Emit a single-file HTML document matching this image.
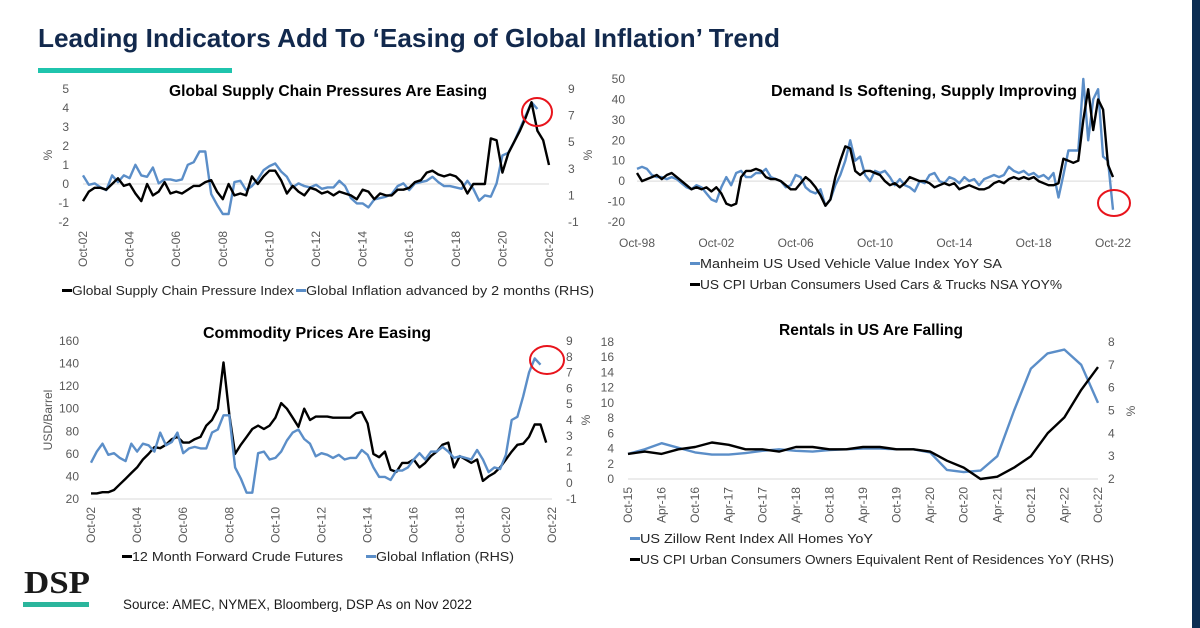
<!DOCTYPE html>
<html><head><meta charset="utf-8">
<style>
html,body{margin:0;padding:0;background:#fff;}
svg{display:block;font-family:"Liberation Sans",sans-serif;}
.t{font-size:12px;fill:#595959;}
.lg{font-size:12.5px;fill:#262626;}
.pt{font-size:16px;font-weight:bold;fill:#000;}
</style></head>
<body>
<svg id="s" width="1200" height="628" viewBox="0 0 1200 628" xmlns="http://www.w3.org/2000/svg">
<rect x="0" y="0" width="1200" height="628" fill="#fff"/>
<rect x="1192" y="0" width="8" height="628" fill="#0b2d52"/>
<text x="38" y="47" font-size="26" font-weight="bold" fill="#12294d" textLength="742" lengthAdjust="spacingAndGlyphs">Leading Indicators Add To ‘Easing of Global Inflation’ Trend</text>
<rect x="38" y="68" width="194" height="5" fill="#1fc4ad"/>

<text class="pt" x="328" y="96" text-anchor="middle" textLength="318" lengthAdjust="spacingAndGlyphs">Global Supply Chain Pressures Are Easing</text>
<text class="pt" x="924" y="96" text-anchor="middle" textLength="306" lengthAdjust="spacingAndGlyphs">Demand Is Softening, Supply Improving</text>
<text class="pt" x="317" y="338" text-anchor="middle" textLength="228" lengthAdjust="spacingAndGlyphs">Commodity Prices Are Easing</text>
<text class="pt" x="871" y="335" text-anchor="middle" textLength="184" lengthAdjust="spacingAndGlyphs">Rentals in US Are Falling</text>

<text class="t" transform="translate(52,155) rotate(-90)" text-anchor="middle">%</text>
<text class="t" transform="translate(592,155) rotate(-90)" text-anchor="middle">%</text>
<text class="t" transform="translate(52,420) rotate(-90)" text-anchor="middle" font-size="13">USD/Barrel</text>
<text class="t" transform="translate(590,420) rotate(-90)" text-anchor="middle">%</text>
<text class="t" transform="translate(1135,411) rotate(-90)" text-anchor="middle">%</text>

<g>
<rect x="62" y="289" width="10" height="3" fill="#000"/>
<text class="lg" x="72" y="295" textLength="222" lengthAdjust="spacingAndGlyphs">Global Supply Chain Pressure Index</text>
<rect x="296" y="289" width="10" height="3" fill="#5b8ec8"/>
<text class="lg" x="306" y="295" textLength="288" lengthAdjust="spacingAndGlyphs">Global Inflation advanced by 2 months (RHS)</text>
</g>
<g>
<rect x="690" y="262" width="10" height="3" fill="#5b8ec8"/>
<text class="lg" x="700" y="268" textLength="302" lengthAdjust="spacingAndGlyphs">Manheim US Used Vehicle Value Index YoY SA</text>
<rect x="690" y="283" width="10" height="3" fill="#000"/>
<text class="lg" x="700" y="289" textLength="362" lengthAdjust="spacingAndGlyphs">US CPI Urban Consumers Used Cars &amp; Trucks NSA YOY%</text>
</g>
<g>
<rect x="122" y="555" width="10" height="3" fill="#000"/>
<text class="lg" x="132" y="561" textLength="211" lengthAdjust="spacingAndGlyphs">12 Month Forward Crude Futures</text>
<rect x="366" y="555" width="10" height="3" fill="#5b8ec8"/>
<text class="lg" x="376" y="561" textLength="138" lengthAdjust="spacingAndGlyphs">Global Inflation (RHS)</text>
</g>
<g>
<rect x="630" y="537" width="10" height="3" fill="#5b8ec8"/>
<text class="lg" x="640" y="543" textLength="233" lengthAdjust="spacingAndGlyphs">US Zillow Rent Index All Homes YoY</text>
<rect x="630" y="558" width="10" height="3" fill="#000"/>
<text class="lg" x="640" y="564" textLength="474" lengthAdjust="spacingAndGlyphs">US CPI Urban Consumers Owners Equivalent Rent of Residences YoY (RHS)</text>
</g>

<text x="24" y="593" font-family="Liberation Serif, serif" font-size="32" font-weight="bold" fill="#1a1a1a" textLength="66" lengthAdjust="spacingAndGlyphs">DSP</text>
<rect x="23" y="602" width="66" height="5" fill="#2bb59c"/>
<text x="123" y="609" font-size="14" fill="#1a1a1a" textLength="349" lengthAdjust="spacingAndGlyphs">Source: AMEC, NYMEX, Bloomberg, DSP As on Nov 2022</text>
<g id="charts"></g>
</svg>
<script>
// ---------- Panel 1 data (quarterly from Oct-02) ----------
const p1Ticks = ["Oct-02","Oct-04","Oct-06","Oct-08","Oct-10","Oct-12","Oct-14","Oct-16","Oct-18","Oct-20","Oct-22"];
const p1LeftTicks = [5,4,3,2,1,0,-1,-2];
const p1RightTicks = [9,7,5,3,1,-1];
const p1Gscpi = [-0.9, -0.4,-0.2,-0.2,-0.3, 0.0,0.3,-0.1,0.0, -0.5,-0.9,0.0,-0.6, -0.4,0.1,-0.5,-0.4, -0.5,-0.3,-0.1,-0.1, 0.1,0.2,-0.4,-0.8, 0.0,-0.6,-0.5,-0.6, 0.4,0.0,0.4,0.7, 0.7,0.2,-0.5,-0.1, -0.4,-0.6,-0.2,-0.3, -0.5,-0.4,-0.6,-0.4, -0.5,-0.6,-0.8,-0.3, -0.4,-0.8,-0.5,-0.6, -0.6,-0.3,-0.3,-0.2, 0.1,0.2,0.6,0.7, 0.5,0.4,0.5,0.4, 0.1,-0.5,0.0,0.0, 0.0,2.4,2.3,0.6, 1.6,2.2,2.8,3.5, 4.3,2.8,2.3,1.0];
const p1Inflation = [2.5, 1.8,1.9,1.6,1.4, 2.5,2.0,2.5,2.3, 3.3,2.5,2.4,3.1, 1.9,2.2,2.2,2.1, 2.2,3.3,3.5,4.3, 4.3,1.1,0.3,-0.4, -0.4,2.0,2.1,1.4, 1.7,2.2,2.9,3.2, 3.4,2.8,2.4,1.6, 1.9,1.7,1.6,1.8, 1.5,1.6,1.6,2.1, 1.7,0.8,0.4,0.4, 0.1,0.7,0.8,0.9, 1.1,1.7,1.9,1.4, 1.9,2.0,2.1,2.4, 2.0,1.7,1.7,1.6, 1.5,2.1,1.5,0.6, 1.0,0.9,1.9,4.0, 4.2,5.0,6.0,7.0, 8.0,7.5];

// ---------- Panel 2 data (quarterly from Oct-98) ----------
const p2Ticks = ["Oct-98","Oct-02","Oct-06","Oct-10","Oct-14","Oct-18","Oct-22"];
const p2LeftTicks = [50,40,30,20,10,0,-10,-20];
const p2Manheim = [6, 7,6,3,2, 2,1,2,1, -1,-3,-4,-2, -3,-6,-9,-10, -3,2,-2,4, 5,2,2,4, 4,6,2,1, 0,-3,-2,3, 2,-3,-5,-6, -4,-12,-9,-2, 3,10,20,10, 12,3,0,5, 4,5,2,-2, 1,-2,-3,-5, 0,-1,3,4, 0,-1,2,1, -1,2,0,1, -2,1,2,3, 2,3,7,5, 4,5,3,4, 2,3,1,4, -8,3,15,15, 15,50,20,40, 45,12,10,-14];
const p2CpiUsed = [4, 0,1,2,3, 1,3,4,2, 0,-2,-4,-3, -4,-3,-5,-3, -6,-11,-12,-11, 2,5,5,6, 5,2,1,1, 0,-2,-4,-4, -1,2,0,-3, -7,-12,-9,2, 10,17,16,5, 3,5,5,4, 3,0,-2,-1, -3,-1,2,1, 0,0,-1,-3, -2,-1,-2,-1, -4,-3,-2,-3, -4,-4,-3,-1, 0,-1,1,2, 1,2,1,2, 0,-1,-2,-2, -1,11,10,9, 10,30,45,25, 40,35,8,2];

// ---------- Panel 3 data (quarterly from Oct-02) ----------
const p3Ticks = p1Ticks;
const p3LeftTicks = [160,140,120,100,80,60,40,20];
const p3RightTicks = [9,8,7,6,5,4,3,2,1,0,-1];
const p3Crude = [25, 25,26,26,28, 33,38,43,48, 55,60,66,65, 68,73,75,70, 70,73,75,85, 90,100,141,95, 60,68,75,82, 85,82,85,92, 105,100,92,84, 100,90,93,93, 93,92,92,92, 92,96,97,87, 60,57,62,46, 44,52,52,55, 48,52,58,62, 68,70,48,58, 55,52,55,36, 40,43,48,55, 62,68,69,75, 86,86,70];
const p3Inflation = [1.3, 2.0,2.5,1.8,1.9, 1.6,1.4,2.5,2.0, 2.5,2.4,2.0,3.2, 2.4,2.6,3.2,1.9, 2.2,2.3,2.2,2.2, 3.2,3.4,4.3,4.3, 1.0,0.3,-0.6,-0.6, 1.9,2.0,1.5,1.6, 2.0,2.7,3.2,3.4, 2.8,2.5,1.7,1.9, 1.8,1.6,1.8,1.5, 1.6,1.6,2.1,1.8, 1.0,0.4,0.4,0.2, 0.8,0.8,1.0,1.5, 1.9,1.5,2.0,2.0, 2.3,2.0,1.6,1.7, 1.6,1.5,2.1,1.5, 0.7,1.0,0.9,1.8, 4.0,4.2,5.5,7.0, 7.9,7.5];

// ---------- Panel 4 data (quarterly from Oct-15) ----------
const p4Ticks = ["Oct-15","Apr-16","Oct-16","Apr-17","Oct-17","Apr-18","Oct-18","Apr-19","Oct-19","Apr-20","Oct-20","Apr-21","Oct-21","Apr-22","Oct-22"];
const p4LeftTicks = [18,16,14,12,10,8,6,4,2,0];
const p4RightTicks = [8,7,6,5,4,3,2];
const p4Zillow = [3.3, 3.9,4.7,4.1,3.5, 3.2,3.2,3.4,3.7, 3.9,3.7,3.6,3.8, 3.9,4.0,4.0,3.9, 3.9,3.5,1.2,0.9, 1.1,3.0,9.0,14.5, 16.5,17.0,15.0,10.0];
const p4Oer = [3.1, 3.2,3.1,3.3,3.4, 3.6,3.5,3.3,3.3, 3.2,3.4,3.4,3.3, 3.3,3.4,3.4,3.3, 3.3,3.2,2.8,2.5, 2.0,2.1,2.5,3.0, 4.0,4.7,5.9,6.9];

const NS = "http://www.w3.org/2000/svg";
const root = document.getElementById("charts");
function mk(tag, attrs, parent){
  const e = document.createElementNS(NS, tag);
  for (const k in attrs) e.setAttribute(k, attrs[k]);
  (parent||root).appendChild(e);
  return e;
}
function linear(d0,d1,r0,r1){ return v => r0 + (v-d0)*(r1-r0)/(d1-d0); }

function yTicks(vals, yScale, x, anchor, name){
  vals.forEach(v=>{
    const t = mk("text",{x:x, y:yScale(v)+4, "text-anchor":anchor, class:"t"});
    
    
    t.textContent = v;
  });
}
function rotTicks(labels, xScaleIdx, top, name){
  labels.forEach((l,i)=>{
    const x = xScaleIdx(i);
    const t = mk("text",{transform:`translate(${x+4},${top}) rotate(-90)`, "text-anchor":"end", class:"t"});
    
    
    t.textContent = l;
  });
}
function series(vals, start, step, xs, ys, color, name){
  const pts = vals.map((v,i)=> xs(start+i*step).toFixed(1)+","+ys(v).toFixed(1)).join(" ");
  const p = mk("polyline",{points:pts, fill:"none", stroke:color, "stroke-width":2.4, "stroke-linejoin":"round"});
  
  
}
function hline(x0,x1,y,name){
  const l = mk("line",{x1:x0,x2:x1,y1:y,y2:y,stroke:"#d9d9d9","stroke-width":1});
  
  
}
function circ(cx,cy,rx,ry,name){
  const c = mk("ellipse",{cx:cx,cy:cy,rx:rx,ry:ry,fill:"none",stroke:"#e8141c","stroke-width":2});
  
  
}
const BLUE="#5b8ec8";

// Panel 1
{
  const xs = linear(2002.75, 2022.75, 83, 549);
  const yl = linear(5, -2, 89, 222);
  const yr = linear(9, -1, 89, 222);
  hline(83, 549, yl(0), "supply-zero-line");
  yTicks(p1LeftTicks, yl, 69, "end", "supply-left-tick");
  yTicks(p1RightTicks, yr, 568, "start", "supply-right-tick");
  rotTicks(p1Ticks, i=>xs(2002.75+2*i), 231, "supply-x-tick");
  series(p1Inflation, 2002.75, 0.25, xs, yr, BLUE, "global-inflation-line");
  series(p1Gscpi, 2002.75, 0.25, xs, yl, "#000", "gscpi-line");
  circ(537, 112, 15, 14, "supply-highlight-circle");
}
// Panel 2
{
  const xs = linear(1998.75, 2022.75, 637, 1113);
  const yl = linear(50, -20, 79, 222);
  hline(637, 1113, yl(0), "vehicle-zero-line");
  yTicks(p2LeftTicks, yl, 625, "end", "vehicle-left-tick");
  p2Ticks.forEach((l,i)=>{
    const t = mk("text",{x:xs(1998.75+4*i), y:247, "text-anchor":"middle", class:"t", "font-size":"13"});
    
    
    t.textContent = l;
  });
  series(p2Manheim, 1998.75, 0.25, xs, yl, BLUE, "manheim-line");
  series(p2CpiUsed, 1998.75, 0.25, xs, yl, "#000", "cpi-used-cars-line");
  circ(1114, 203, 16, 13, "vehicle-highlight-circle");
}
// Panel 3
{
  const xs = linear(2002.75, 2022.75, 91, 552);
  const yl = linear(160, 20, 341, 499);
  const yr = linear(9, -1, 341, 499);
  hline(91, 552, 499, "commodity-x-axis");
  yTicks(p3LeftTicks, yl, 79, "end", "commodity-left-tick");
  yTicks(p3RightTicks, yr, 566, "start", "commodity-right-tick");
  rotTicks(p3Ticks, i=>xs(2002.75+2*i), 507, "commodity-x-tick");
  series(p3Crude, 2002.75, 0.25, xs, yl, "#000", "crude-futures-line");
  series(p3Inflation, 2002.75, 0.25, xs, yr, BLUE, "global-inflation-rhs-line");
  circ(547, 360, 17, 14, "commodity-highlight-circle");
}
// Panel 4
{
  const xs = linear(2015.75, 2022.75, 628, 1098);
  const yl = linear(18, 0, 342, 479);
  const yr = linear(8, 2, 342, 479);
  hline(628, 1098, 479, "rentals-x-axis");
  yTicks(p4LeftTicks, yl, 614, "end", "rentals-left-tick");
  yTicks(p4RightTicks, yr, 1108, "start", "rentals-right-tick");
  rotTicks(p4Ticks, i=>xs(2015.75+0.5*i), 487, "rentals-x-tick");
  series(p4Zillow, 2015.75, 0.25, xs, yl, BLUE, "zillow-rent-line");
  series(p4Oer, 2015.75, 0.25, xs, yr, "#000", "oer-line");
}
</script>
</body></html>
